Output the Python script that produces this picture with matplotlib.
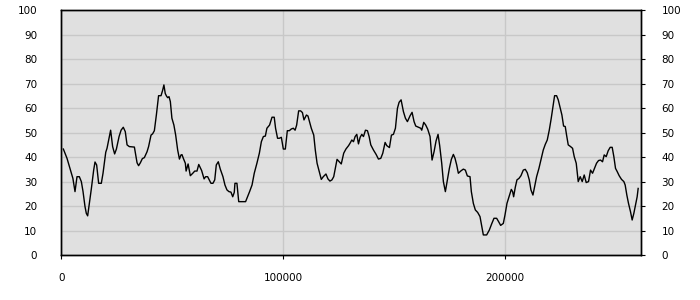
import matplotlib
matplotlib.use("Agg")
import matplotlib.pyplot as plt

# series
xs = [900, 2550, 4500, 5200, 6150, 7050, 8100, 9000, 9750, 10650, 11250, 11850, 12450,
      13500, 14560, 15160, 15900, 16800, 18000, 18770, 20000, 20570, 21320, 22200, 23100,
      24000, 24800, 26000, 26900, 27900, 28800, 29600, 30600, 32900, 33500, 34100, 34800,
      35600, 36500, 37400, 38600, 39300, 40400, 41100, 41900, 42800, 43800, 44900, 45600,
      46200, 46800, 47400, 47900, 48500, 49100, 49800, 50700, 51500, 52400, 53200, 53900,
      54350, 54950, 55850, 56200, 57100, 58100, 59200, 60100, 61100, 61900, 63200, 64300,
      65000, 65900, 67400, 68300, 69100, 69800, 70700, 71600, 72800, 73700, 74600, 75500,
      76400, 77200, 77900, 78200, 79100, 79900, 82100, 83000, 83900, 84800, 85900, 86900,
      88100, 89200, 90100, 91000, 91900, 92600, 93800, 94900, 95900, 96500, 97400, 98200,
      99100, 100000, 100900, 101800, 102700, 103600, 104500, 105300, 106000, 106900, 107800,
      108600, 109300, 110400, 111100, 112000, 112600, 113700, 114400, 115200, 116200, 117100,
      118000, 119200, 120100, 121000, 121900, 122700, 123400, 124200, 125200, 126100, 127200,
      128200, 129400, 130200, 130850, 131600, 132350, 133100, 133850, 134600, 135350, 136100,
      137000, 137900, 138650, 139400, 140600, 141800, 142850, 143900, 144800, 145850, 146600,
      147800, 148700, 149600, 150500, 151400, 152150, 153050, 154100, 155000, 155900, 157100,
      158000, 158900, 159650, 160850, 161900, 162350, 163250, 164150, 165050, 166100, 167000,
      167900, 168800, 169700, 170450, 171350, 172100, 173000, 173900, 174800, 175700, 176600,
      177350, 178100, 178850, 179900, 181100, 182000, 182900, 184100, 184700, 185600, 186500,
      187550, 188600, 189350, 190100, 191600, 192800, 193850, 194900, 196100, 197000, 197900,
      199100, 199850, 200750, 201800, 202700, 203300, 203750, 204500, 205250, 206150, 207050,
      208100, 209000, 209900, 210800, 211550, 212450, 213200, 214100, 215150, 216050, 217100,
      218000, 218900, 219800, 220700, 221450, 222200, 223100, 223850, 224600, 225500, 226250,
      227000, 227600, 228350, 229400, 230300, 231050, 231950, 232850, 233750, 234650, 235550,
      236450, 237500, 238400, 239300, 240200, 241100, 242000, 242900, 243800, 244550, 245450,
      246350, 247250, 248150, 248900, 249650, 250400, 251300, 252350, 253400, 254000, 254750,
      255500, 256400, 257150, 257900, 258650, 259400, 259850]
ys = [43.3, 39.5, 33.4, 31.3, 25.9, 32, 32, 30, 26, 19.8, 17, 16, 20,
      27, 34.7, 38, 36.8, 29.3, 29.3, 33.4, 42, 43.6, 47, 51, 44.3,
      41.3, 43.3, 48.4, 51, 52.2, 50.4, 45, 44.3, 44.1, 40.9, 37.7, 36.5,
      37.7, 39.4, 39.8, 42.2, 44.3, 49, 49.5, 50.8, 57.2, 65.1, 65.1, 67.2,
      69.5, 66, 64.9, 64.3, 64.7, 62.7, 55.9, 53.1, 49, 42.9, 39.2, 40.9,
      41, 39.5, 37.5, 34.3, 37.2, 32.4, 33.4, 34.3, 34.3, 37, 34.5, 31.1,
      32, 32, 29.3, 29.3, 30.7, 36.8, 38.1, 35.1, 32, 28.6, 26.6, 25.9,
      25.7, 23.8, 25.6, 29.3, 29.3, 21.8, 21.8, 21.8, 23.8, 25.9, 28.6, 33.4,
      37.5, 41.6, 46.3, 48.4, 48.6, 51.8, 53.1, 56.3, 56.3, 51.8, 47.7, 47.7,
      48.1, 43.3, 43.3, 50.8, 50.8, 51.5, 51.8, 51, 53.1, 58.9, 58.9,
      58.2, 55.2, 57.2, 56.8, 53.8, 51.8, 49, 42.9, 37.5, 34, 30.9,
      32, 33.1, 31.1, 30.2, 30.7, 32, 35.4, 39.1, 38.1, 37.2, 41.6,
      43.3, 44.7, 45.9, 47, 46.3, 48.4, 49.3, 45.4, 48.1, 49.3, 48.4,
      51, 50.8, 48.4, 45, 42.9, 41.1, 39.2, 39.5, 41.6, 46, 44.7,
      43.9, 49, 49.3, 51.8, 59.9, 62.4, 63.4, 58.6, 55.9, 54.5, 56.9,
      58.3, 54.5, 52.7, 52.2, 51.8, 51, 54.2, 53.1, 51.4, 48.4, 38.8,
      42.2, 46.6, 49.3, 44.6, 37.5, 30, 25.9, 30.7, 35.4, 39.1, 41.1,
      39.5, 36.8, 33.4, 34.3, 35.1, 34.7, 32.3, 32, 25.9, 21.1, 18.4,
      17.4, 15.7, 11.9, 8.2, 8.2, 10.2, 12.7, 15, 15, 13.6, 12.1,
      12.9, 16.3, 21.1, 24.1, 26.8, 25.9, 23.8, 27.7, 30.7, 31.3, 32.4,
      34.7, 35, 33.6, 30.7, 26.6, 24.5, 27.9, 32, 35.4, 38.8, 42.9,
      45.2, 47, 51, 55.9, 60.6, 65.1, 65.1, 63.4, 60.6, 57.2, 52.7,
      52.5, 49, 45, 44.3, 43.6, 40.2, 37.5, 30, 32, 30, 32.7,
      29.6, 30, 34.7, 33.4, 35.4, 37.5, 38.6, 38.8, 38.1, 40.9, 40.2,
      42.6, 44, 44, 40.2, 35.4, 34.1, 32.4, 30.9, 30, 28.6, 24.5,
      21.1, 17.7, 14.3, 17, 20.4, 23.8, 27.2]

yticks = [0, 10, 20, 30, 40, 50, 60, 70, 80, 90, 100]
xticks = [0, 100000, 200000]

fig = plt.figure(figsize=(7, 3), dpi=100)
ax = fig.add_axes([0.0867, 0.15, 0.8286, 0.8157])
ax.set_facecolor('#e0e0e0')
ax.plot(xs, ys, color='black', linewidth=1.0)

ax.set_xlim(-300, 261000)
ax.set_ylim(0, 100)
ax.set_xticks(xticks)
ax.set_xticklabels([str(v) for v in xticks])
ax.set_yticks(yticks)
ax.grid(True, color='#c8c8c8', linewidth=1.0)
ax.set_axisbelow(True)

ax.tick_params(axis='x', length=3, pad=10, labelsize=7.5, color='black')
ax.tick_params(axis='y', length=0, pad=17, labelsize=7.5)

# right hand copy of the y axis, with short outward ticks
ax2 = ax.twinx()
ax2.set_ylim(0, 100)
ax2.set_yticks(yticks)
ax2.tick_params(axis='y', length=3, pad=12, labelsize=7.5)

for a in (ax, ax2):
    for s in a.spines.values():
        s.set_color('black')
        s.set_linewidth(1.0)

fig.savefig('out.png', dpi=100)
